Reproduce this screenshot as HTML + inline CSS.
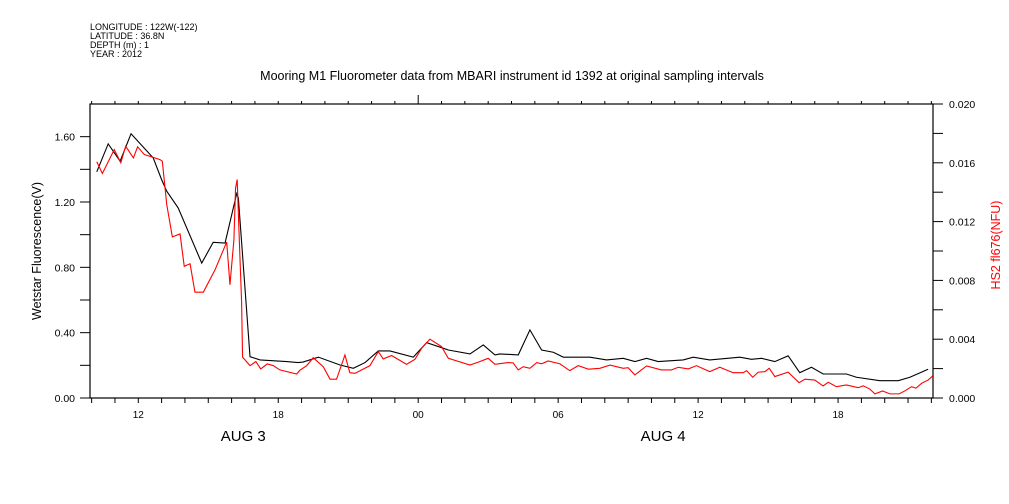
<!DOCTYPE html>
<html><head><meta charset="utf-8"><style>
html,body{margin:0;padding:0;background:#fff;}
svg{display:block;font-family:"Liberation Sans",sans-serif;}
</style></head><body>
<svg id="chart" width="1009" height="504" viewBox="0 0 1009 504">
<g font-size="9" fill="#000">
<text x="90" y="30">LONGITUDE : 122W(-122)</text>
<text x="90" y="39">LATITUDE : 36.8N</text>
<text x="90" y="48">DEPTH (m) : 1</text>
<text x="90" y="57">YEAR : 2012</text>
</g>
<text x="512" y="80" font-size="12.5" text-anchor="middle">Mooring M1 Fluorometer data from MBARI instrument id 1392 at original sampling intervals</text>
<text transform="translate(41,251) rotate(-90)" font-size="12.5" text-anchor="middle">Wetstar Fluorescence(V)</text>
<text transform="translate(1000,245) rotate(-90)" font-size="12.5" text-anchor="middle" fill="#f00">HS2 fl676(NFU)</text>
<g id="axes"></g>
<g id="series"></g>
</svg>
<script>
const tBlack=[10.22,10.71,11.22,11.69,12.64,13.0,13.22,13.71,14.72,15.21,15.72,16.22,16.29,16.79,17.22,18.36,18.85,19.06,19.72,20.65,21.22,21.72,22.29,22.79,23.79,24.36,25.07,25.29,26.22,26.79,27.29,27.5,28.29,28.79,29.29,29.79,30.22,31.36,32.08,32.79,33.29,33.79,34.29,35.36,35.79,36.5,37.79,38.29,38.72,39.29,39.86,40.36,40.86,41.36,42.36,42.79,43.79,44.58,45.08,45.86];
const vBlack=[1.385,1.556,1.45,1.618,1.47,1.337,1.266,1.164,0.826,0.953,0.949,1.252,1.225,0.253,0.233,0.223,0.217,0.22,0.25,0.202,0.182,0.217,0.288,0.288,0.25,0.339,0.305,0.294,0.27,0.325,0.264,0.27,0.264,0.417,0.294,0.28,0.25,0.25,0.233,0.243,0.223,0.243,0.223,0.233,0.25,0.233,0.25,0.237,0.243,0.223,0.258,0.155,0.188,0.147,0.147,0.127,0.106,0.106,0.127,0.176];
const tRed=[10.22,10.46,10.97,11.25,11.46,11.79,11.97,12.26,12.93,13.03,13.22,13.46,13.79,13.97,14.22,14.43,14.79,15.29,15.79,15.93,16.1,16.17,16.24,16.32,16.43,16.47,16.79,17.04,17.25,17.53,17.79,18.07,18.79,18.93,19.22,19.5,19.93,20.22,20.5,20.86,21.07,21.29,21.93,22.29,22.5,22.86,23.5,23.86,24.15,24.5,25.0,25.29,26.22,26.65,27.0,27.29,27.86,28.07,28.29,28.5,28.79,29.08,29.29,29.57,30.07,30.5,30.86,31.29,31.79,32.22,32.79,33.0,33.29,33.79,34.43,34.86,35.15,35.58,35.93,36.5,36.93,37.5,37.93,38.08,38.34,38.58,38.86,39.05,39.29,39.86,40.33,40.58,41.0,41.36,41.58,41.93,42.36,42.86,43.08,43.36,43.58,43.91,44.22,44.62,44.86,45.15,45.34,45.58,45.86,46.06];
const vRed=[0.01607,0.01527,0.0169,0.016,0.01713,0.01633,0.01709,0.01656,0.01622,0.01611,0.01316,0.01096,0.01116,0.00896,0.00913,0.0072,0.0072,0.00872,0.01061,0.0077,0.01077,0.01429,0.01486,0.01122,0.00648,0.00278,0.0022,0.00248,0.00198,0.00232,0.0022,0.00191,0.00163,0.00189,0.0022,0.00274,0.00213,0.00128,0.00128,0.00293,0.00172,0.00168,0.0022,0.00316,0.00266,0.00289,0.00229,0.00263,0.00339,0.004,0.0035,0.0027,0.00224,0.00248,0.0027,0.00229,0.00241,0.00239,0.00191,0.00213,0.00202,0.00241,0.00233,0.00252,0.00233,0.00186,0.0022,0.00196,0.00202,0.00224,0.00202,0.00206,0.00157,0.00218,0.00191,0.00191,0.00209,0.00198,0.0022,0.00179,0.00209,0.00172,0.00172,0.00186,0.00141,0.00176,0.00179,0.00202,0.00146,0.00176,0.00104,0.00128,0.00122,0.00082,0.00107,0.00077,0.00089,0.0007,0.00083,0.00061,0.00028,0.00048,0.00028,0.00028,0.00048,0.00077,0.00067,0.001,0.00122,0.0015];
const leftTicks=["0.00","0.40","0.80","1.20","1.60"];
const rightTicks=["0.000","0.004","0.008","0.012","0.016","0.020"];
const xTickHours=[12,18,24,30,36,42];
const xTickLabels=["12","18","00","06","12","18"];
const dayLabels=["AUG  3","AUG  4"];
const dayHours=[16.5,34.5];

const L=90,R=933,T=104,B=398;
const H0=9.93,H1=46.07,YMAX=1.8,RMAX=0.02;
const X=h=>L+(h-H0)/(H1-H0)*(R-L);
const YL=v=>B-v/YMAX*(B-T);
const YR=v=>B-v/RMAX*(B-T);
const NS="http://www.w3.org/2000/svg";
function mk(tag,attrs,parent){const e=document.createElementNS(NS,tag);for(const k in attrs)e.setAttribute(k,attrs[k]);parent.appendChild(e);return e;}
const ax=document.getElementById('axes');
const frame=mk('rect',{x:L,y:T,width:R-L,height:B-T,fill:'none',stroke:'#000','stroke-width':1.2},ax);


for(let h=10;h<=46;h++){
  const x=X(h);
  const bt=mk('line',{x1:x,y1:B,x2:x,y2:B+5,stroke:'#000'},ax);
  
  
  const tt=mk('line',{x1:x,y1:T,x2:x,y2:T-(h===24?9:3),stroke:'#000'},ax);
  
  
}
xTickHours.forEach((h,i)=>{
  const t=mk('text',{x:X(h),y:418,'font-size':10,'text-anchor':'middle'},ax);
  t.textContent=xTickLabels[i];
  
  
});
dayLabels.forEach((d,i)=>{
  const t=mk('text',{x:X(dayHours[i]),y:441,'font-size':15,'text-anchor':'middle','xml:space':'preserve'},ax);
  t.textContent=d;
  
  
});
for(let k=0;k<=8;k++){
  const v=k*0.2;const y=YL(v);
  const l=mk('line',{x1:L-10,y1:y,x2:L,y2:y,stroke:'#000'},ax);
  
  
}
leftTicks.forEach(s=>{
  const t=mk('text',{x:75,y:YL(parseFloat(s))+4,'font-size':10.5,'text-anchor':'end'},ax);
  t.textContent=s;
  
  
});
for(let k=0;k<=10;k++){
  const y=YR(k*0.002);
  const l=mk('line',{x1:R,y1:y,x2:R+10,y2:y,stroke:'#000'},ax);
  
  
}
rightTicks.forEach(s=>{
  const t=mk('text',{x:949,y:YR(parseFloat(s))+4,'font-size':10.5},ax);
  t.textContent=s;
  
  
});
const sg=document.getElementById('series');
const pb=mk('polyline',{points:tBlack.map((h,i)=>X(h)+','+YL(vBlack[i])).join(' '),fill:'none',stroke:'#000','stroke-width':1.1},sg);


const pr=mk('polyline',{points:tRed.map((h,i)=>X(h)+','+YR(vRed[i])).join(' '),fill:'none',stroke:'#f00','stroke-width':1.1},sg);


</script>
</body></html>
